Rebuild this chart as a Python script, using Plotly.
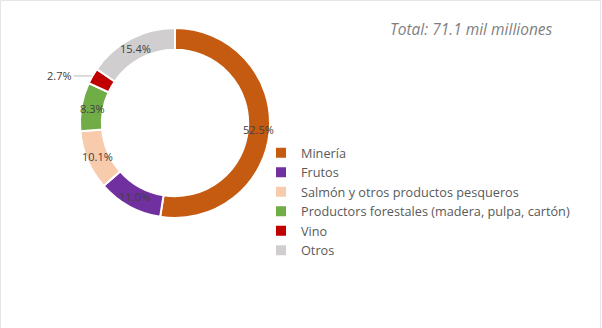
import math
import plotly.graph_objects as go

# Export composition by sector (share of total, %)
sectors = ["Minería", "Frutos", "Salmón y otros productos pesqueros",
           "Productors forestales (madera, pulpa, cartón)", "Vino", "Otros"]
shares = [52.5, 11.0, 10.1, 8.3, 2.7, 15.4]
colors = ["#C55A11", "#7030A0", "#F8CBAD", "#70AD47", "#C00000", "#D0CECE"]
outside_label = [False, False, False, False, True, False]
total_text = "Total: 71.1 mil milliones"

W, H = 602, 328
cx, cy, r = 175, 123, 95
hole = 0.77

fig = go.Figure(go.Pie(
    labels=sectors,
    values=shares,
    textinfo="none",
    marker=dict(colors=colors, line=dict(color="white", width=2)),
    hole=hole,
    sort=False,
    direction="clockwise",
    rotation=0,
    domain=dict(x=[(cx - r) / W, (cx + r) / W],
                y=[(H - cy - r) / H, (H - cy + r) / H]),
    hoverinfo="label+percent",
))

# Percentage labels placed at each slice's mid-angle
annotations = []
total = sum(shares)
cum = 0.0
label_font = dict(family="Open Sans", size=11, color="#404040")
for val, outside in zip(shares, outside_label):
    mid = (cum + val / 2) / total * 2 * math.pi
    cum += val
    if outside:
        px = cx + r * math.sin(mid)
        py = cy - r * math.cos(mid)
        annotations.append(dict(
            text=f"{val:.1f}%", x=px / W, y=1 - py / H, xref="paper", yref="paper",
            showarrow=True, arrowhead=0, arrowwidth=0.8, arrowcolor="#A6A6A6",
            ax=-33, ay=0, standoff=1, font=label_font))
    else:
        rm = r * (1 + hole) / 2
        px = cx + rm * math.sin(mid)
        py = cy - rm * math.cos(mid)
        annotations.append(dict(
            text=f"{val:.1f}%", x=px / W, y=1 - py / H, xref="paper", yref="paper",
            xanchor="center", yanchor="middle", showarrow=False, font=label_font))

annotations.append(dict(
    text="<i>" + total_text + "</i>", x=471 / W, y=1 - 29 / H,
    xref="paper", yref="paper", xanchor="center", yanchor="middle",
    showarrow=False, font=dict(family="Open Sans", size=15.5, color="#7F7F7F")))

fig.update_layout(
    width=W, height=H,
    margin=dict(l=0, r=0, t=0, b=0),
    paper_bgcolor="white",
    plot_bgcolor="white",
    showlegend=True,
    legend=dict(
        x=261 / W, y=1 - 202 / H, xanchor="left", yanchor="middle",
        font=dict(family="Open Sans", size=12.7, color="#595959"),
        itemwidth=30, tracegroupgap=0,
        bgcolor="rgba(0,0,0,0)",
    ),
    annotations=annotations,
    shapes=[dict(type="rect", xref="paper", yref="paper",
                 x0=0.5 / W, x1=1 - 1.5 / W, y0=-0.01, y1=1 - 0.5 / H,
                 line=dict(color="#E6E6E6", width=1))],
)

fig.write_html("out.html")
